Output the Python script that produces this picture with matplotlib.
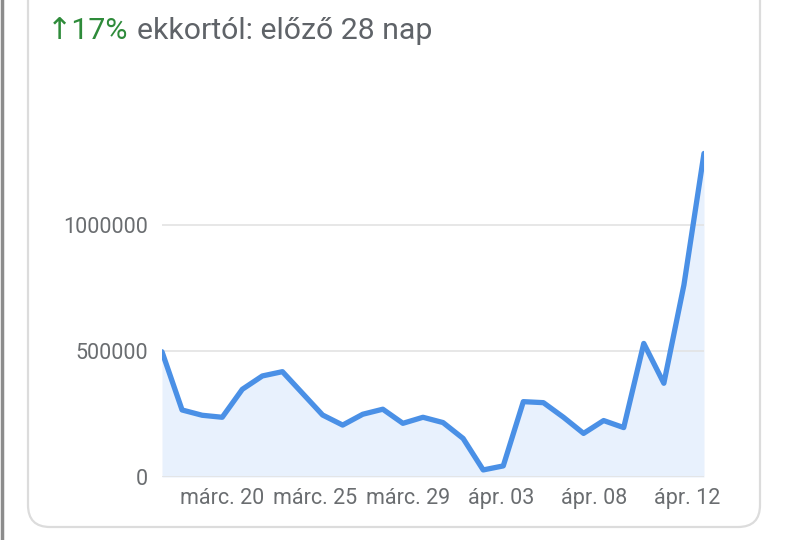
import matplotlib
matplotlib.use("Agg")
import matplotlib.pyplot as plt
from matplotlib.patches import FancyBboxPatch
from matplotlib.transforms import IdentityTransform
from matplotlib.lines import Line2D

plt.rcParams['font.family'] = ['Roboto', 'DejaVu Sans']

# daily values, márc. 16 .. ápr. 12 (28 days)
values = [497000, 266000, 245000, 237000, 348000, 401000, 418000, 332000,
          246000, 206000, 249000, 269000, 213000, 237000, 216000, 153000,
          28000, 44000, 299000, 295000, 237000, 173000, 224000, 196000,
          530000, 372000, 762000, 1284000]
days = list(range(len(values)))

# x labels (google spreads them evenly, not exactly on the day)
tick_pos = [3.0, 7.63, 12.26, 16.89, 21.52, 26.15]
tick_labels = ['márc. 20', 'márc. 25', 'márc. 29', 'ápr. 03', 'ápr. 08', 'ápr. 12']
y_ticks = [0, 500000, 1000000]

header_up = '↑17%'
header_rest = 'ekkortól: előző 28 nap'

fig = plt.figure(figsize=(7.89, 5.4), dpi=100)

# card + screen edge
card = FancyBboxPatch((28, 13), 732, 700, boxstyle='round,pad=0,rounding_size=22',
                      transform=IdentityTransform(), fc='white', ec='#dcdcdc', lw=1.6,
                      zorder=0)
fig.add_artist(card)
fig.add_artist(Line2D([1.5 / 789, 1.5 / 789], [0, 1], transform=fig.transFigure,
                      color='#8c8c8c', lw=2.5))

ax = fig.add_axes([162 / 789, 63 / 540, 542 / 789, 327.6 / 540])
ax.patch.set_alpha(0)

ax.fill_between(days, values, 0, color='#e8f1fd', lw=0, zorder=1)
ax.plot(days, values, color='#4a90e6', lw=3.8, solid_joinstyle='round',
        solid_capstyle='round', zorder=3)

ax.set_xlim(0, len(values) - 1)
ax.set_ylim(0, 1300000)
ax.set_yticks(y_ticks)
ax.set_yticklabels([str(v) for v in y_ticks])
ax.set_xticks(tick_pos)
ax.set_xticklabels(tick_labels)
ax.tick_params(axis='both', length=0, labelsize=15.5, labelcolor='#6a6d70')
ax.tick_params(axis='y', pad=10)
ax.tick_params(axis='x', pad=8)
ax.grid(axis='y', color='#e3e3e3', lw=1.2, zorder=0)
for s in ax.spines.values():
    s.set_visible(False)

t1 = fig.text(47 / 789, 1 - 45 / 540, header_up, color='#2e8b3a', fontsize=21.8,
              va='bottom', ha='left')
ax.annotate(header_rest, xy=(1, 0), xycoords=t1, xytext=(6, 0),
            textcoords='offset points', color='#5f6368', fontsize=21.8,
            va='bottom', ha='left', annotation_clip=False)

fig.savefig('out.png', dpi=100)
